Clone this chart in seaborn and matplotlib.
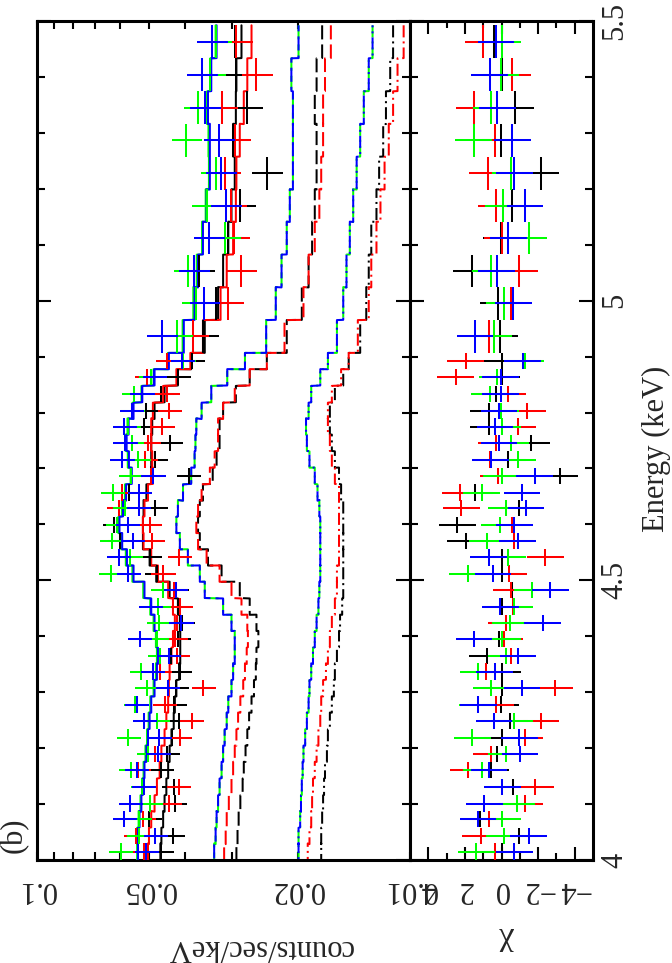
import matplotlib
matplotlib.use("Agg")
import matplotlib.pyplot as plt
import numpy as np
import seaborn as sns
from matplotlib.ticker import NullFormatter

# bin centres (keV), high energy first
energy = [5.463, 5.404, 5.345, 5.287, 5.228, 5.170, 5.112, 5.053, 4.995, 4.936,
          4.892, 4.863, 4.833, 4.803, 4.775, 4.746, 4.716, 4.687, 4.657, 4.629,
          4.599, 4.570, 4.541, 4.512, 4.483, 4.453, 4.424, 4.395, 4.365, 4.337,
          4.307, 4.278, 4.249, 4.219, 4.190, 4.161, 4.131, 4.101, 4.073, 4.043, 4.015]
e_half = [0.0293] * 10 + [0.0146] * 31
err_frac = [0.095] * 10 + [0.075] * 31

# observed spectra (counts/sec/keV)
data_black = [0.0294, 0.0292, 0.0273, 0.0299, 0.0242, 0.0286, 0.0308, 0.0368, 0.0332, 0.0359,
              0.0384, 0.0419, 0.0465, 0.0509, 0.0517, 0.0439, 0.0482, 0.0392, 0.0566, 0.0483,
              0.0620, 0.0599, 0.0499, 0.0477, 0.0423, 0.0417, 0.0408, 0.0418, 0.0437, 0.0414,
              0.0423, 0.0428, 0.0417, 0.0434, 0.0448, 0.0464, 0.0430, 0.0427, 0.0501, 0.0433, 0.0465]
data_red = [0.0292, 0.0258, 0.0320, 0.0295, 0.0313, 0.0302, 0.0297, 0.0284, 0.0307, 0.0382,
            0.0447, 0.0507, 0.0448, 0.0442, 0.0462, 0.0504, 0.0513, 0.0496, 0.0593, 0.0603,
            0.0499, 0.0492, 0.0415, 0.0459, 0.0428, 0.0413, 0.0421, 0.0426, 0.0421, 0.0469,
            0.0358, 0.0455, 0.0385, 0.0414, 0.0484, 0.0535, 0.0417, 0.0442, 0.0520, 0.0544, 0.0517]
data_green = [0.0331, 0.0344, 0.0369, 0.0398, 0.0331, 0.0350, 0.0314, 0.0393, 0.0374, 0.0422,
              0.0406, 0.0495, 0.0550, 0.0555, 0.0569, 0.0557, 0.0535, 0.0561, 0.0627, 0.0581,
              0.0609, 0.0630, 0.0563, 0.0634, 0.0459, 0.0473, 0.0471, 0.0478, 0.0469, 0.0525,
              0.0507, 0.0545, 0.0477, 0.0569, 0.0503, 0.0560, 0.0521, 0.0498, 0.0532, 0.0533, 0.0596]
data_blue = [0.0340, 0.0362, 0.0355, 0.0325, 0.0322, 0.0311, 0.0346, 0.0379, 0.0356, 0.0462,
             0.0408, 0.0485, 0.0523, 0.0557, 0.0583, 0.0581, 0.0592, 0.0489, 0.0532, 0.0534,
             0.0571, 0.0554, 0.0604, 0.0569, 0.0425, 0.0496, 0.0411, 0.0531, 0.0444, 0.0490,
             0.0446, 0.0541, 0.0515, 0.0470, 0.0474, 0.0541, 0.0518, 0.0562, 0.0583, 0.0482, 0.0509]

# total models
model_black = [0.0283, 0.0292, 0.0293, 0.0298, 0.0295, 0.0301, 0.0307, 0.0317, 0.0327, 0.0355,
               0.0386, 0.0419, 0.0455, 0.0484, 0.0491, 0.0494, 0.0494, 0.0494, 0.0509, 0.0518,
               0.0520, 0.0520, 0.0499, 0.0479, 0.0441, 0.0419, 0.0414, 0.0413, 0.0413, 0.0416,
               0.0423, 0.0427, 0.0430, 0.0436, 0.0441, 0.0445, 0.0450, 0.0455, 0.0459, 0.0464, 0.0467]
model_red = [0.0266, 0.0273, 0.0279, 0.0286, 0.0292, 0.0293, 0.0298, 0.0310, 0.0322, 0.0359,
             0.0388, 0.0423, 0.0459, 0.0489, 0.0494, 0.0494, 0.0491, 0.0489, 0.0504, 0.0515,
             0.0520, 0.0518, 0.0494, 0.0474, 0.0445, 0.0432, 0.0427, 0.0432, 0.0436, 0.0441,
             0.0443, 0.0445, 0.0450, 0.0455, 0.0464, 0.0469, 0.0477, 0.0484, 0.0494, 0.0501, 0.0504]
model_green = [0.0332, 0.0343, 0.0350, 0.0347, 0.0346, 0.0353, 0.0361, 0.0373, 0.0381, 0.0407,
               0.0446, 0.0487, 0.0525, 0.0555, 0.0572, 0.0579, 0.0571, 0.0561, 0.0581, 0.0592,
               0.0605, 0.0595, 0.0578, 0.0555, 0.0519, 0.0497, 0.0487, 0.0480, 0.0477, 0.0480,
               0.0487, 0.0497, 0.0502, 0.0507, 0.0512, 0.0518, 0.0523, 0.0528, 0.0534, 0.0539, 0.0539]
model_blue = [0.0330, 0.0341, 0.0348, 0.0344, 0.0344, 0.0351, 0.0359, 0.0370, 0.0378, 0.0404,
              0.0443, 0.0484, 0.0522, 0.0551, 0.0568, 0.0575, 0.0567, 0.0557, 0.0577, 0.0588,
              0.0601, 0.0591, 0.0574, 0.0551, 0.0515, 0.0494, 0.0484, 0.0477, 0.0474, 0.0477,
              0.0484, 0.0494, 0.0499, 0.0504, 0.0509, 0.0515, 0.0520, 0.0525, 0.0531, 0.0536, 0.0536]

# model components: dashed (line) and dash-dot (continuum)
line_bg = [0.0199, 0.0208, 0.0206, 0.0206, 0.0206, 0.0210, 0.0214, 0.0221, 0.0229, 0.0243,
           0.0277, 0.0309, 0.0341, 0.0362, 0.0374, 0.0376, 0.0378, 0.0386, 0.0406, 0.0419,
           0.0423, 0.0414, 0.0394, 0.0366, 0.0355, 0.0317, 0.0301, 0.0295, 0.0295, 0.0298,
           0.0301, 0.0307, 0.0310, 0.0314, 0.0317, 0.0320, 0.0324, 0.0327, 0.0330, 0.0332, 0.0335]
line_black = [0.0172, 0.0178, 0.0180, 0.0178, 0.0178, 0.0180, 0.0183, 0.0187, 0.0195, 0.0214,
              0.0242, 0.0269, 0.0293, 0.0317, 0.0324, 0.0324, 0.0330, 0.0338, 0.0359, 0.0366,
              0.0370, 0.0366, 0.0348, 0.0320, 0.0286, 0.0269, 0.0258, 0.0255, 0.0258, 0.0259,
              0.0262, 0.0266, 0.0270, 0.0273, 0.0276, 0.0279, 0.0281, 0.0285, 0.0288, 0.0290, 0.0292]
line_red = [0.0163, 0.0169, 0.0171, 0.0171, 0.0173, 0.0175, 0.0180, 0.0187, 0.0193, 0.0217,
            0.0242, 0.0269, 0.0295, 0.0317, 0.0327, 0.0327, 0.0334, 0.0344, 0.0362, 0.0370,
            0.0374, 0.0370, 0.0351, 0.0324, 0.0301, 0.0283, 0.0273, 0.0272, 0.0274, 0.0277,
            0.0280, 0.0285, 0.0289, 0.0292, 0.0295, 0.0298, 0.0301, 0.0306, 0.0310, 0.0312, 0.0315]
cont_bg = [0.0126, 0.0129, 0.0133, 0.0136, 0.0139, 0.0142, 0.0145, 0.0148, 0.0151, 0.0157,
           0.0166, 0.0174, 0.0184, 0.0187, 0.0190, 0.0189, 0.0186, 0.0180, 0.0177, 0.0175,
           0.0174, 0.0174, 0.0174, 0.0174, 0.0175, 0.0176, 0.0178, 0.0180, 0.0182, 0.0184,
           0.0186, 0.0187, 0.0189, 0.0191, 0.0193, 0.0194, 0.0195, 0.0196, 0.0197, 0.0199, 0.0199]
cont_black = [0.0111, 0.0113, 0.0116, 0.0118, 0.0121, 0.0123, 0.0127, 0.0129, 0.0131, 0.0136,
              0.0146, 0.0151, 0.0159, 0.0164, 0.0164, 0.0162, 0.0159, 0.0155, 0.0153, 0.0151,
              0.0151, 0.0151, 0.0151, 0.0151, 0.0151, 0.0152, 0.0154, 0.0155, 0.0157, 0.0159,
              0.0160, 0.0162, 0.0164, 0.0166, 0.0167, 0.0169, 0.0170, 0.0171, 0.0172, 0.0173, 0.0173]
cont_red = [0.0104, 0.0108, 0.0111, 0.0114, 0.0117, 0.0120, 0.0123, 0.0127, 0.0129, 0.0138,
            0.0146, 0.0153, 0.0162, 0.0166, 0.0166, 0.0164, 0.0162, 0.0159, 0.0155, 0.0155,
            0.0155, 0.0155, 0.0155, 0.0157, 0.0157, 0.0159, 0.0162, 0.0164, 0.0166, 0.0168,
            0.0171, 0.0173, 0.0174, 0.0176, 0.0178, 0.0180, 0.0182, 0.0183, 0.0184, 0.0186, 0.0188]

# residuals (chi)
chi_black = [0.4, 0.0, -0.75, 0.04, -2.14, -0.55, 0.02, 1.63, 0.18, 0.1,
             -0.05, 0.0, 0.31, 0.71, 0.71, -1.63, -0.35, -3.2, 1.45, -0.97,
             2.42, 1.96, 0.0, -0.05, -0.57, -0.05, -0.24, 0.16, 0.8, -0.05,
             0.0, 0.04, -0.44, -0.05, 0.24, 0.57, -0.64, -0.86, 1.19, -0.97, -0.05]
chi_red = [1.0, -0.6, 1.48, 0.35, 0.75, 0.31, -0.05, -0.97, -0.53, 0.68,
           1.96, 2.5, -0.35, -1.41, -0.9, 0.3, 0.62, 0.2, 2.27, 2.2,
           -0.57, -0.7, -2.4, -0.42, -0.53, -0.64, -0.27, -0.16, -0.53, 0.86,
           -2.93, 0.3, -2.16, -1.28, 0.57, 1.83, -1.85, -1.26, 0.71, 1.14, 0.35]
chi_green = [-0.05, 0.05, 0.57, 1.52, -0.5, -0.1, -1.48, 0.6, -0.16, 0.4,
             -1.3, 0.22, 0.64, 0.04, -0.05, -0.53, -0.9, 0.0, 1.08, -0.27,
             0.1, 0.8, -0.33, 1.85, -1.67, -0.7, -0.46, -0.05, -0.24, 1.26,
             0.57, 1.3, -0.71, 1.59, -0.27, 1.08, -0.05, -0.82, -0.05, -0.16, 1.37]
chi_blue = [0.31, 0.64, 0.22, -0.6, -0.71, -1.28, -0.37, 0.27, -0.64, 1.45,
            -1.15, 0.04, 0.04, 0.13, 0.35, 0.13, 0.59, -1.81, -1.12, -1.34,
            -0.7, -0.88, 0.71, 0.46, -2.67, 0.07, -2.25, 1.5, -0.9, 0.38,
            -1.12, 1.26, 0.42, -0.97, -1.0, 0.68, -0.05, 0.93, 1.28, -1.48, -0.71]

BLACK, RED, GREEN, BLUE = "#000000", "#ff0000", "#00ff00", "#0000ff"
LW = 1.45

sns.set_theme(style="ticks")
plt.rcParams["font.family"] = "serif"
plt.rcParams["font.serif"] = ["Liberation Serif", "DejaVu Serif"]
plt.rcParams["axes.linewidth"] = 2.2

e = np.array(energy)
eh = np.array(e_half)
ef = np.array(err_frac)


def steps(vals):
    # vertical step outline along the energy axis
    xs, ys = [], []
    for c, en, h in zip(vals, e, eh):
        xs += [c, c]
        ys += [en + h, en - h]
    return xs, ys


fig = plt.figure(figsize=(6.72, 9.63), dpi=100)
ax1 = fig.add_axes([37 / 672, 103 / 963, 373 / 672, 839 / 963])
ax2 = fig.add_axes([410 / 672, 103 / 963, 183 / 672, 839 / 963])

# component curves
comps = [
    (cont_black, BLACK, (0, (6, 2, 1, 2))),
    (cont_red, RED, (0, (6, 2, 1, 2))),
    (cont_bg, GREEN, (0, (6, 2, 1, 2))),
    (cont_bg, BLUE, (5, (6, 2, 1, 2))),
    (line_black, BLACK, (0, (7, 2.5))),
    (line_red, RED, (0, (7, 2.5))),
    (line_bg, GREEN, (0, (7, 2.5))),
    (line_bg, BLUE, (4, (7, 2.5))),
]
for vals, col, ls in comps:
    xs, ys = steps(vals)
    sns.lineplot(x=xs, y=ys, sort=False, estimator=None, color=col,
                 lw=LW, linestyle=ls, ax=ax1, zorder=2)

# total models
for vals, col in [(model_black, BLACK), (model_red, RED),
                  (model_green, GREEN), (model_blue, BLUE)]:
    xs, ys = steps(vals)
    sns.lineplot(x=xs, y=ys, sort=False, estimator=None, color=col,
                 lw=LW, ax=ax1, zorder=3)

# data crosses and residuals
for dat, chi, col in [(data_black, chi_black, BLACK), (data_red, chi_red, RED),
                      (data_green, chi_green, GREEN), (data_blue, chi_blue, BLUE)]:
    d = np.array(dat)
    ax1.errorbar(d, e, xerr=d * ef, yerr=eh, fmt="none", ecolor=col,
                 elinewidth=LW, capsize=0, zorder=4)
    ax2.errorbar(chi, e, xerr=1.0, yerr=eh, fmt="none", ecolor=col,
                 elinewidth=LW, capsize=0, zorder=4)

# counts panel axes
ax1.set_xscale("log")
ax1.set_xlim(0.1, 0.01)
ax1.set_ylim(4, 5.5)
ax1.set_xticks([0.1, 0.05, 0.02, 0.01], labels=["0.1", "0.05", "0.02", "0.01"])
ax1.set_xticks([0.09, 0.08, 0.07, 0.06, 0.04, 0.03], minor=True)
ax1.xaxis.set_minor_formatter(NullFormatter())
ax1.set_yticks([4, 4.5, 5, 5.5])
ax1.set_yticks(np.arange(4.1, 5.5, 0.1), minor=True)
ax1.set_xlabel("")
ax1.set_ylabel("")

# residual panel axes
ax2.set_xlim(5, -5)
ax2.set_ylim(4, 5.5)
ax2.set_xticks([4, 2, 0, -2, -4], labels=["4", "2", "0", "\u22122", "\u22124"])
ax2.set_xticks([3, 1, -1, -3], minor=True)
ax2.set_yticks([4, 4.5, 5, 5.5], labels=["4", "4.5", "5", "5.5"])
ax2.set_yticks(np.arange(4.1, 5.5, 0.1), minor=True)
ax2.set_xlabel("")
ax2.set_ylabel("")

for ax in (ax1, ax2):
    ax.tick_params(which="both", direction="in", top=True, bottom=True,
                   left=True, right=True, width=1.5, color="black")
    ax.tick_params(axis="y", which="major", length=10)
    ax.tick_params(axis="y", which="minor", length=5.8)
    ax.tick_params(axis="x", labelrotation=180, labelsize=22, pad=11)
    for sp in ax.spines.values():
        sp.set_visible(True)
        sp.set_linewidth(2.2)
        sp.set_color("black")

ax1.tick_params(axis="x", which="both", length=5.8)
ax1.tick_params(axis="y", labelleft=False, labelright=False)
ax2.tick_params(axis="x", which="major", length=9.4)
ax2.tick_params(axis="x", which="minor", length=5)
ax2.tick_params(axis="y", labelleft=False, labelright=True, labelrotation=90,
                labelsize=22, pad=5)
for lab in ax2.get_yticklabels():
    lab.set_va("center")

fig.text(260 / 672, 1 - 947 / 963, "counts/sec/keV", rotation=180,
         ha="center", va="center", fontsize=22)
fig.text(507 / 672, 1 - 942 / 963, "\u03c7", rotation=180,
         ha="center", va="center", fontsize=24)
fig.text(656 / 672, 1 - 449 / 963, "Energy (keV)", rotation=90,
         ha="center", va="center", fontsize=22)
fig.text(14 / 672, 1 - 835 / 963, "(b)", rotation=90,
         ha="center", va="center", fontsize=22)

fig.savefig("out.png", dpi=100)
